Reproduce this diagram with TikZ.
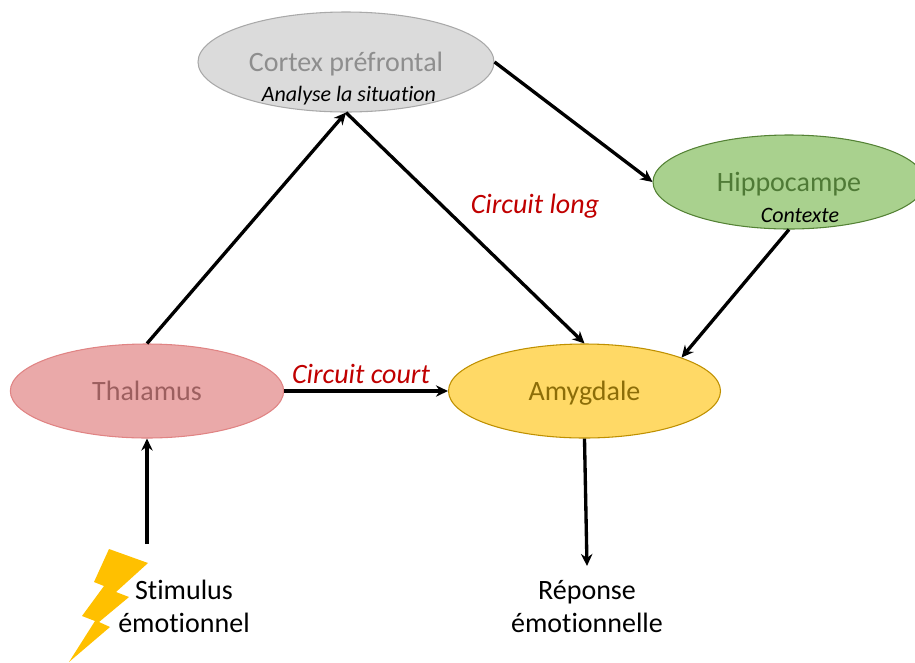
\documentclass[tikz,border=0pt]{standalone}
\usepackage{fontspec}
\setmainfont[Ligatures=NoCommon]{Carlito}
\usepackage{tikz}
\usetikzlibrary{shapes,positioning,calc,arrows.meta}
\definecolor{cortex_fill}{HTML}{DBDBDB}
\definecolor{cortex_line}{HTML}{A9A9A9}
\definecolor{cortex_text}{HTML}{8E8E8E}
\definecolor{hippo_fill}{HTML}{A9D18E}
\definecolor{hippo_line}{HTML}{548235}
\definecolor{hippo_text}{HTML}{4F7A36}
\definecolor{thal_fill}{HTML}{EAA9A9}
\definecolor{thal_line}{HTML}{E08484}
\definecolor{thal_text}{HTML}{9C5F5F}
\definecolor{amyg_fill}{HTML}{FFD966}
\definecolor{amyg_line}{HTML}{BF9000}
\definecolor{amyg_text}{HTML}{8C6D08}
\definecolor{circuit_red}{HTML}{C00000}
\definecolor{bolt_fill}{HTML}{FFC000}
\begin{document}
\begin{tikzpicture}[x=0.75pt,y=-0.75pt,join=round]
		\tikzstyle{region}=[draw, ellipse, inner sep=0pt, thick, font=\fontsize{21}{25}\selectfont, text height=15.5pt, text depth=2pt];
		\tikzstyle{role}=[font=\fontsize{16.5}{20}\itshape\selectfont, text=black, inner sep=0pt];
		\tikzstyle{circuit}=[font=\fontsize{21}{25}\itshape\selectfont, text=circuit_red, inner sep=0pt];
		\tikzstyle{plain_label}=[align=center, font=\fontsize{21}{24.75}\selectfont, inner sep=0pt];
		\tikzstyle{link}=[-{Stealth[length=9pt,width=8.5pt]}, line width=2.5pt, black];

		\clip (0,0) rectangle (915,662);

		\node[region, fill=cortex_fill, draw=cortex_line, text=cortex_text, minimum width=222pt, minimum height=75pt] (r_c) at (346,62) {Cortex préfrontal};
		\node[region, fill=hippo_fill, draw=hippo_line, text=hippo_text, minimum width=204pt, minimum height=70.5pt] (r_h) at (789,182) {Hippocampe};
		\node[region, fill=thal_fill, draw=thal_line, text=thal_text, minimum width=205pt, minimum height=70.5pt] (r_t) at (147,391) {Thalamus};
		\node[region, fill=amyg_fill, draw=amyg_line, text=amyg_text, minimum width=204pt, minimum height=70.5pt] (r_a) at (584.5,391) {Amygdale};

		\node[role] (role_c) at (349,96) {Analyse la situation};
		\node[role] (role_h) at (800,215) {Contexte};

		\node[circuit] (c_long) at (535,206) {Circuit long};
		\node[circuit] (c_court) at (361,374) {Circuit court};

		\node[plain_label] (stim) at (184,606) {Stimulus\\émotionnel};
		\node[plain_label] (resp) at (587,606.5) {Réponse\\émotionnelle};

		\filldraw[fill=bolt_fill, draw=none] (109,549) -- (148,563) -- (116,592) -- (129,597) -- (99,622) -- (110,627) -- (69,662) -- (95,621) -- (82,616) -- (104,586) -- (94,582) -- cycle;

		\coordinate (stim_top) at (147,544);
		\coordinate (resp_top) at (587,566);

		\draw[link] (stim_top) -- (r_t.south);
		\draw[link] (r_t.east) -- (r_a.west);
		\draw[link] (r_t.north) -- (r_c.south);
		\draw[link] (r_c.south) -- (r_a.north);
		\draw[link] (r_c.east) -- (r_h.west);
		\draw[link] (r_h.south) -- (r_a.19);
		\draw[link] (r_a.south) -- (resp_top);
	\end{tikzpicture}
\end{document}
